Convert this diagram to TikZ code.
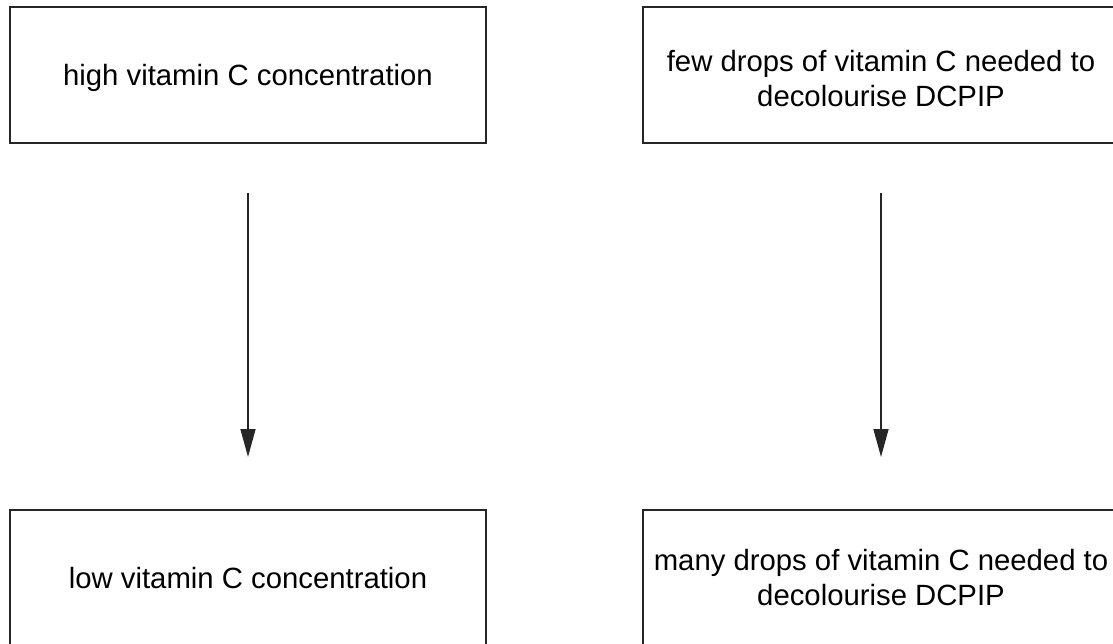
\documentclass[tikz,border=0pt]{standalone}
\usepackage{fontspec}
\setmainfont{Liberation Sans}
\usetikzlibrary{arrows.meta}

\begin{document}
\begin{tikzpicture}[x=1pt, y=-1pt,
  box/.style={draw=black!85, line width=2pt, minimum width=476pt, minimum height=136pt,
    align=center, inner sep=0pt, font=\fontsize{29.3}{35}\selectfont},
  link/.style={draw=black!85, line width=1.6pt, -{Triangle[length=28pt,width=15pt]}}]

\useasboundingbox (0,0) rectangle (1113,644);

% Define column and row positions
\def\cola{248}
\def\colb{881}
\def\rowa{75}
\def\rowb{578}

% Left column - concentration
\node[box, text height=28pt] (high) at (\cola, \rowa) {high vitamin C concentration};
\node[box] (low) at (\cola, \rowb) {low vitamin C concentration};

% Right column - drops of vitamin C
\node[box, text height=64pt] (few) at (\colb, \rowa) {few drops of vitamin C needed to\\decolourise DCPIP};
\node[box] (many) at (\colb, \rowb) {many drops of vitamin C needed to\\decolourise DCPIP};

% Arrows pointing down
\coordinate (higha) at (\cola, 193);
\coordinate (lowa) at (\cola, 457);
\coordinate (fewa) at (\colb, 193);
\coordinate (manya) at (\colb, 457);
\draw[link] (higha) -- (lowa);
\draw[link] (fewa) -- (manya);

\end{tikzpicture}
\end{document}
